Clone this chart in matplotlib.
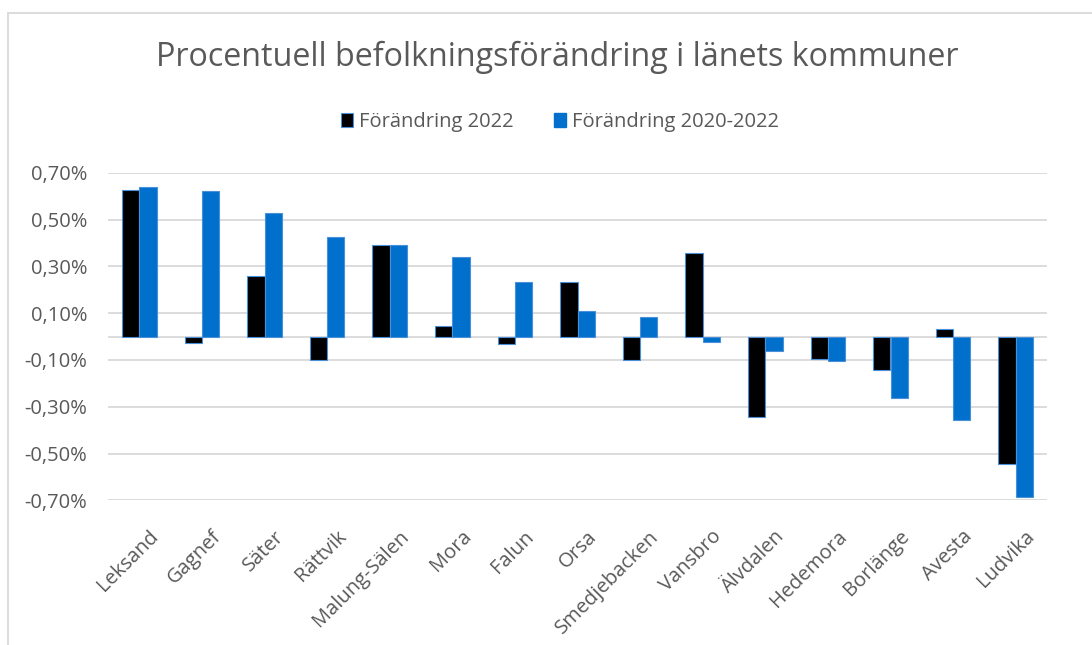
import numpy as np
import matplotlib.pyplot as plt
import matplotlib.transforms as mtransforms
from matplotlib.lines import Line2D
from matplotlib.patches import Patch

kommuner = ['Leksand', 'Gagnef', 'Säter', 'Rättvik', 'Malung-Sälen', 'Mora', 'Falun',
            'Orsa', 'Smedjebacken', 'Vansbro', 'Älvdalen', 'Hedemora', 'Borlänge',
            'Avesta', 'Ludvika']
forandring_2022 = [0.628, -0.028, 0.258, -0.100, 0.390, 0.044, -0.031,
                   0.232, -0.101, 0.355, -0.342, -0.097, -0.145, 0.032, -0.545]
forandring_2020_2022 = [0.638, 0.621, 0.529, 0.427, 0.392, 0.339, 0.231,
                        0.111, 0.085, -0.024, -0.060, -0.103, -0.262, -0.356, -0.685]
yticks = [0.7, 0.5, 0.3, 0.1, -0.1, -0.3, -0.5, -0.7]

plt.rcParams['font.family'] = ['Open Sans', 'DejaVu Sans']
grey = '#595959'
black = '#000000'
blue = '#0070CC'
edge = '#4A90D9'

fig = plt.figure(figsize=(10.92, 6.45), dpi=100)
ax = fig.add_axes([108 / 1092, 1 - 500.3 / 645, (1047 - 108) / 1092, (500.3 - 172.7) / 645])

x = np.arange(len(kommuner))
w = 0.277
ax.bar(x - w / 2, forandring_2022, w, color=black, edgecolor=edge, linewidth=0.8, zorder=3)
ax.bar(x + w / 2, forandring_2020_2022, w, color=blue, edgecolor=edge, linewidth=0.8, zorder=3)

ax.set_xlim(-0.5, len(kommuner) - 0.5)
ax.set_ylim(-0.7, 0.7)
ax.set_yticks(yticks)
ax.set_yticklabels([f'{v:.2f}%'.replace('.', ',') for v in yticks], color=grey, fontsize=14.5)
ax.yaxis.grid(True, color='#D9D9D9', linewidth=1.3, zorder=0)
ax.axhline(0, color='#D9D9D9', linewidth=1.3, zorder=1)
ax.set_xticks(x)
ax.set_xticklabels(kommuner, rotation=45, ha='right', rotation_mode='anchor',
                   color=grey, fontsize=14.5)
ax.tick_params(axis='y', length=0, pad=15)
ax.tick_params(axis='x', length=0, pad=19)
shift = mtransforms.ScaledTranslation(9 / 100, 0, fig.dpi_scale_trans)
for lab in ax.get_xticklabels():
    lab.set_transform(lab.get_transform() + shift)
for s in ax.spines.values():
    s.set_visible(False)

fig.text(557 / 1092, 1 - 57 / 645, 'Procentuell befolkningsförändring i länets kommuner',
         ha='center', va='center', fontsize=23.2, color=grey)

handles = [Patch(facecolor=black, edgecolor=edge, linewidth=0.8, label='Förändring 2022'),
           Patch(facecolor=blue, edgecolor=blue, label='Förändring 2020-2022')]
fig.legend(handles=handles, loc='center', bbox_to_anchor=(560 / 1092, 1 - 122 / 645),
           ncol=2, frameon=False, fontsize=14.5, labelcolor=grey,
           handlelength=0.6, handleheight=0.7, handletextpad=0.3, columnspacing=2.0)

# chart frame
fig.add_artist(Line2D([8 / 1092, 8 / 1092], [0, 1 - 13 / 645], color='#D9D9D9', linewidth=1.3))
fig.add_artist(Line2D([8 / 1092, 1], [1 - 13 / 645, 1 - 13 / 645], color='#D9D9D9', linewidth=1.3))

fig.savefig('out.png', dpi=100)
